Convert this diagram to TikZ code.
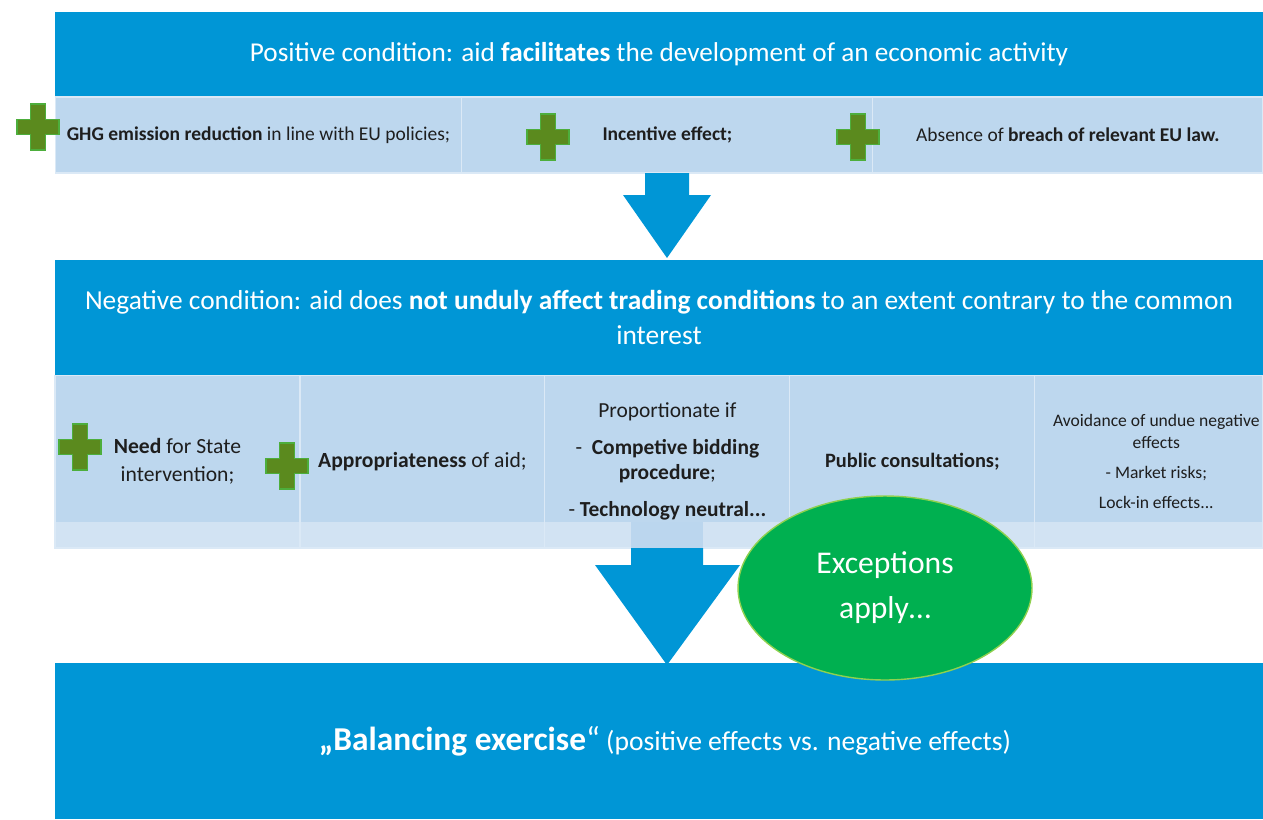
\documentclass[tikz,border=0pt]{standalone}
\usepackage{fontspec}
\setmainfont{Carlito}
\usetikzlibrary{positioning,calc,shapes.geometric}
\definecolor{bandblue}{HTML}{0096D6}
\definecolor{cellblue}{HTML}{BDD7EE}
\definecolor{stripblue}{HTML}{D2E3F3}
\definecolor{shaftblue}{HTML}{BBD6EE}
\definecolor{plusgreen}{HTML}{5B8A1E}
\definecolor{plusedge}{HTML}{4DAE3C}
\definecolor{exgreen}{HTML}{00B050}
\definecolor{exedge}{HTML}{8FD14F}
\definecolor{textgray}{HTML}{1E1E1E}
\tikzset{%
  % Specifications for style of nodes:
       band/.style = {rectangle, fill=bandblue, minimum width=24.16cm,
                      inner sep=0pt, outer sep=0pt, text=white, align=center},
   cellbase/.style = {rectangle, fill=cellblue, draw=white!45!cellblue, line width=0.6pt,
                      inner sep=0pt, outer sep=0pt, text=textgray, align=center},
     toprow/.style = {cellbase, minimum height=1.52cm, font=\fontsize{11.1}{13}\selectfont},
     midrow/.style = {cellbase, minimum height=3.46cm, minimum width=4.9cm,
                      font=\fontsize{12.3}{16}\selectfont,
                      path picture={\fill[stripblue] (path picture bounding box.south west)
                        rectangle ([yshift=0.52cm]path picture bounding box.south east);}},
 exceptions/.style = {ellipse, fill=exgreen, draw=exedge, line width=0.8pt, text=white,
                      minimum width=5.88cm, minimum height=3.68cm, align=center,
                      font=\fontsize{18}{25.5}\selectfont},
 blockarrow/.style = {fill=bandblue},
  greenplus/.pic = {\filldraw[fill=plusgreen, draw=plusedge, line width=0.7pt]
                      (-7.5,-23) -- (7.5,-23) -- (7.5,-7.5) -- (21,-7.5) -- (21,7.5)
                      -- (7.5,7.5) -- (7.5,23) -- (-7.5,23) -- (-7.5,7.5) -- (-21,7.5)
                      -- (-21,-7.5) -- (-7.5,-7.5) -- cycle;}
}
\begin{document}
\begin{tikzpicture}[x=0.02cm, y=-0.02cm]
  \useasboundingbox (0,0) rectangle (1263,819);

  % positive condition
  \node (pos) [band, minimum height=1.7cm, font=\fontsize{15.5}{18}\selectfont] at (659,54.5)
    {Positive condition: aid \textbf{facilitates} the development of an economic activity};
  \node (ghg) [toprow, minimum width=8.14cm] at (258.5,135)
    {\textbf{GHG emission reduction} in line with EU policies;};
  \node (inc) [toprow, minimum width=8.22cm, right=0pt of ghg] {\textbf{Incentive effect;}};
  \node (law) [toprow, minimum width=7.8cm, right=0pt of inc]
    {Absence of \textbf{breach of relevant EU law.}};
  \pic at ($(ghg.west)+(-17,-8)$) {greenplus};
  \pic at ($(inc.west)+(86,2)$) {greenplus};
  \pic at ($(law.west)+(-15,2)$) {greenplus};

  \coordinate (a1top) at (667,173);
  \coordinate (a1tip) at (667,258);
  \fill[blockarrow] ($(a1top)+(-22,0)$) -- ($(a1top)+(22,0)$) -- ($(a1top)+(22,22)$)
    -- ($(a1top)+(44,22)$) -- (a1tip) -- ($(a1top)+(-44,22)$) -- ($(a1top)+(-22,22)$) -- cycle;

  % negative condition
  \node (neg) [band, minimum height=2.3cm, font=\fontsize{15.6}{20.4}\selectfont] at (659,317.5)
    {Negative condition: aid does \textbf{not unduly affect trading conditions} to an extent contrary to the common\\ interest};
  \node (need) [midrow] at (177.5,461.5) {\textbf{Need} for State\\ intervention;};
  \node (approp) [midrow, right=0pt of need] {\textbf{Appropriateness} of aid;};
  \node (prop) [midrow, right=0pt of approp, font=\fontsize{12.2}{14.2}\selectfont]
    {Proportionate if\\[6.8pt] -~~\textbf{Competive bidding}\\ \textbf{procedure};\\[6.8pt] - \textbf{Technology neutral...}};
  \node (cons) [midrow, right=0pt of prop, font=\fontsize{11.6}{14}\selectfont] {\textbf{Public consultations;}};
  \node (avoid) [midrow, minimum width=4.56cm, right=0pt of cons, font=\fontsize{10}{12.5}\selectfont]
    {\hspace*{0.3cm}Avoidance of undue negative\\ \hspace*{0.3cm}effects\\[4.5pt] \hspace*{0.3cm}- Market risks;\\[4.5pt] \hspace*{0.3cm}Lock-in effects...};
  \pic at ($(need.west)+(25,-14.5)$) {greenplus};
  \pic at ($(approp.west)+(-13,4.5)$) {greenplus};

  % balancing exercise
  \node (bal) [band, minimum height=3.12cm, font=\fontsize{15.7}{19}\selectfont] at (659,741)
    {\hspace*{0.24cm}{\fontsize{19}{22}\selectfont\textbf{„Balancing exercise}“} (positive effects vs. negative effects)};

  \coordinate (a2top) at (667,522);
  \coordinate (a2tip) at (667,665);
  \fill[shaftblue] ($(a2top)+(-36,0)$) rectangle ($(a2top)+(36,26)$);
  \fill[blockarrow] ($(a2top)+(-36,26)$) -- ($(a2top)+(36,26)$) -- ($(a2top)+(36,43)$)
    -- ($(a2top)+(73,43)$) -- (a2tip) -- ($(a2top)+(-72,43)$) -- ($(a2top)+(-36,43)$) -- cycle;

  \node (exc) [exceptions] at (885,588) {Exceptions\\ apply…};
\end{tikzpicture}
\end{document}
